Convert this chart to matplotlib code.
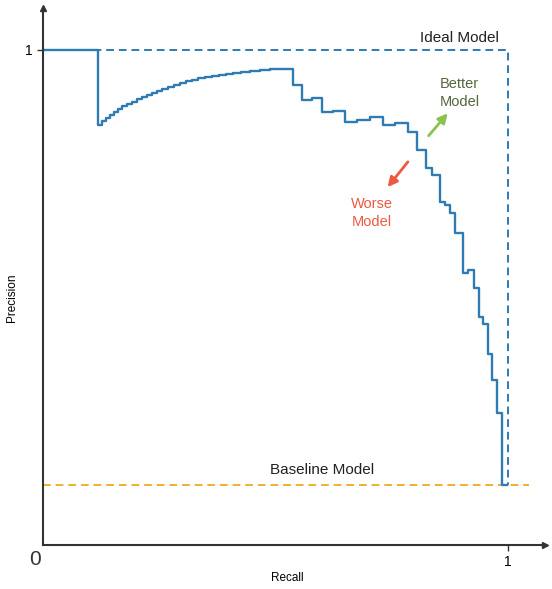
import matplotlib
matplotlib.use("Agg")
import matplotlib.pyplot as plt

# precision-recall staircase (step "post": precision holds until next recall)
recall = [0.0, 0.118, 0.127, 0.135, 0.144, 0.153, 0.161, 0.170, 0.181, 0.191,
          0.202, 0.213, 0.224, 0.234, 0.245, 0.256, 0.269, 0.282, 0.295, 0.308,
          0.320, 0.333, 0.348, 0.363, 0.378, 0.394, 0.409, 0.426, 0.445, 0.467,
          0.488, 0.510,
          0.538, 0.557, 0.578, 0.600, 0.624, 0.649, 0.675, 0.703,
          0.731, 0.757, 0.785, 0.804, 0.824, 0.837, 0.854, 0.865, 0.875, 0.886,
          0.903, 0.914, 0.927, 0.938, 0.946, 0.957, 0.966, 0.976, 0.987, 0.998]
precision = [1.0, 0.848, 0.857, 0.863, 0.869, 0.875, 0.881, 0.887, 0.891, 0.895,
             0.901, 0.905, 0.909, 0.913, 0.917, 0.921, 0.925, 0.929, 0.933, 0.937,
             0.939, 0.943, 0.945, 0.947, 0.949, 0.952, 0.954, 0.956, 0.958, 0.960,
             0.961, 0.962,
             0.929, 0.899, 0.903, 0.875, 0.877, 0.855, 0.859, 0.865,
             0.848, 0.853, 0.834, 0.798, 0.762, 0.747, 0.693, 0.687, 0.671, 0.630,
             0.549, 0.555, 0.519, 0.461, 0.446, 0.386, 0.333, 0.267, 0.121, 0.121]

baseline = 0.121
ideal_x = [0, 1, 1]
ideal_y = [1, 1, baseline]

blue = "#2f7bb3"
orange = "#f0b030"
green = "#8cc152"
red = "#ec5a43"

plt.rcParams['font.family'] = ['Liberation Sans', 'DejaVu Sans']

fig = plt.figure(figsize=(5.52, 5.89), dpi=100)
ax = fig.add_axes([0.078, 0.075, 0.909, 0.912])
ax.set_xlim(0, 1.08)
ax.set_ylim(0, 1.085)

ax.plot(ideal_x, ideal_y, color=blue, lw=1.4, ls=(0, (4, 2.5)))
ax.plot([0, 1.047], [baseline, baseline], color=orange, lw=1.4, ls=(0, (4, 2.5)))
ax.step(recall, precision, where='post', color=blue, lw=1.7)

ax.text(0.897, 1.024, "Ideal Model", ha='center', va='center', fontsize=11, color='#222222')
ax.text(0.60, 0.152, "Baseline Model", ha='center', va='center', fontsize=11, color='#222222')
ax.text(0.897, 0.913, "Better\nModel", ha='center', va='center', fontsize=10.5,
        color='#55673f', linespacing=1.35)
ax.text(0.708, 0.671, "Worse\nModel", ha='center', va='center', fontsize=10.5,
        color=red, linespacing=1.35)
ax.annotate("", xy=(0.875, 0.876), xytext=(0.826, 0.822),
            arrowprops=dict(arrowstyle='-|>', color=green, lw=2, mutation_scale=14))
ax.annotate("", xy=(0.738, 0.718), xytext=(0.789, 0.778),
            arrowprops=dict(arrowstyle='-|>', color=red, lw=2, mutation_scale=14))

for s in ['top', 'right']:
    ax.spines[s].set_visible(False)
for s in ['left', 'bottom']:
    ax.spines[s].set_color('#333333')
    ax.spines[s].set_linewidth(1.5)
ax.plot(1, 0, ">", color='#333333', ms=5, transform=ax.get_yaxis_transform(), clip_on=False)
ax.plot(0, 1, "^", color='#333333', ms=5, transform=ax.get_xaxis_transform(), clip_on=False)

ax.set_xticks([1])
ax.set_yticks([1])
ax.set_xticklabels(["1"], fontsize=10)
ax.set_yticklabels(["1"], fontsize=10)
ax.tick_params(length=4, color='#333333', width=1)
ax.text(-0.018, -0.03, "0", ha='center', va='center', fontsize=15, color='#333333')

ax.set_xlabel("Recall", fontsize=8.5)
ax.set_ylabel("Precision", fontsize=8.5)
ax.xaxis.set_label_coords(0.486, -0.05)
ax.yaxis.set_label_coords(-0.05, 0.46)

fig.savefig("out.png", dpi=100)
